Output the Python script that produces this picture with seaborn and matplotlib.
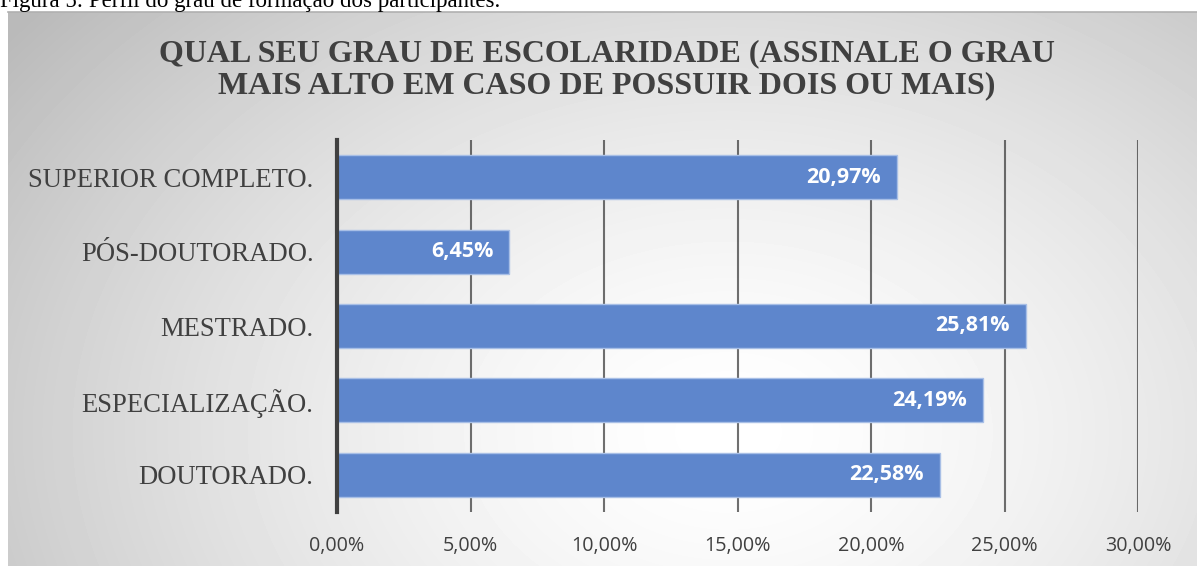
import numpy as np
import pandas as pd
import matplotlib
matplotlib.use("Agg")
import matplotlib.pyplot as plt
import seaborn as sns

categories = ["SUPERIOR COMPLETO.", "PÓS-DOUTORADO.", "MESTRADO.", "ESPECIALIZAÇÃO.", "DOUTORADO."]
values = [20.97, 6.45, 25.81, 24.19, 22.58]
xticks = [0, 5, 10, 15, 20, 25, 30]
title = "QUAL SEU GRAU DE ESCOLARIDADE (ASSINALE O GRAU\nMAIS ALTO EM CASO DE POSSUIR DOIS OU MAIS)"
caption = "Figura 5: Perfil do grau de formação dos participantes."

df = pd.DataFrame({"grau": categories, "pct": values})

sns.set_theme(style="white")
W, H = 1197, 566
fig = plt.figure(figsize=(W / 100, H / 100), dpi=100)
fig.patch.set_facecolor("white")

# chart area with radial grey-to-white gradient
x0, ytop = 8, 12
bg = fig.add_axes([x0 / W, 0, 1 - x0 / W, 1 - ytop / H])
gw, gh = W - x0, H - ytop
gx, gy = np.meshgrid(np.arange(gw), np.arange(gh))
d = np.sqrt(((gx - 720) / 720) ** 2 + ((gy - 420) / 520) ** 2)
shade = 1 - 0.27 * np.clip(d, 0, 1.25) ** 1.5 / 1.25 ** 1.5
bg.imshow(shade, cmap="gray", vmin=0, vmax=1, aspect="auto", interpolation="bilinear")
bg.set_xticks([])
bg.set_yticks([])
for s in ["left", "right", "bottom"]:
    bg.spines[s].set_visible(False)
bg.spines["top"].set_color("#b0b0b0")
bg.spines["top"].set_linewidth(1.2)

fig.text(0.0, 1 - 7 / H, caption, family="Liberation Serif", fontsize=16.5, color="black",
         ha="left", va="baseline", zorder=0)

ax = fig.add_axes([337 / W, 1 - 512 / H, 801 / W, 372 / H])
ax.patch.set_alpha(0)
sns.barplot(data=df, x="pct", y="grau", orient="h", ax=ax, color="#5E86CC",
            saturation=1, width=0.59, edgecolor="#A8BFE6", linewidth=1, zorder=3)
ax.set_xlim(0, 30)
ax.set_ylim(4.5, -0.5)
ax.set_xticks(xticks)
ax.set_xticklabels([f"{t:.2f}%".replace(".", ",") for t in xticks],
                   family="Open Sans", fontsize=14.2, color="#404040")
ax.tick_params(axis="x", pad=17, length=0)
ax.tick_params(axis="y", pad=17, length=0)
for lbl in ax.get_yticklabels():
    lbl.set_family("Liberation Serif")
    lbl.set_fontsize(19.2)
    lbl.set_color("#404040")
ax.set_xlabel("")
ax.set_ylabel("")
ax.grid(axis="x", color="#333333", linewidth=1.5, alpha=0.7, zorder=1)
ax.set_axisbelow(True)
for s in ["top", "right", "bottom"]:
    ax.spines[s].set_visible(False)
ax.spines["left"].set_color("#404040")
ax.spines["left"].set_linewidth(3)
ax.spines["left"].set_zorder(5)

for i, v in enumerate(values):
    ax.annotate(f"{v:.2f}%".replace(".", ","), xy=(v, i), xytext=(-11.5, 0),
                textcoords="offset points", ha="right", va="center",
                family="Open Sans", fontsize=15.5, fontweight="bold", color="white", zorder=6)

fig.text(607 / W, 1 - 70 / H, title, family="Liberation Serif", fontsize=23,
         fontweight="bold", color="#404040", ha="center", va="center", linespacing=1.12)

fig.savefig("out.png", dpi=100)
